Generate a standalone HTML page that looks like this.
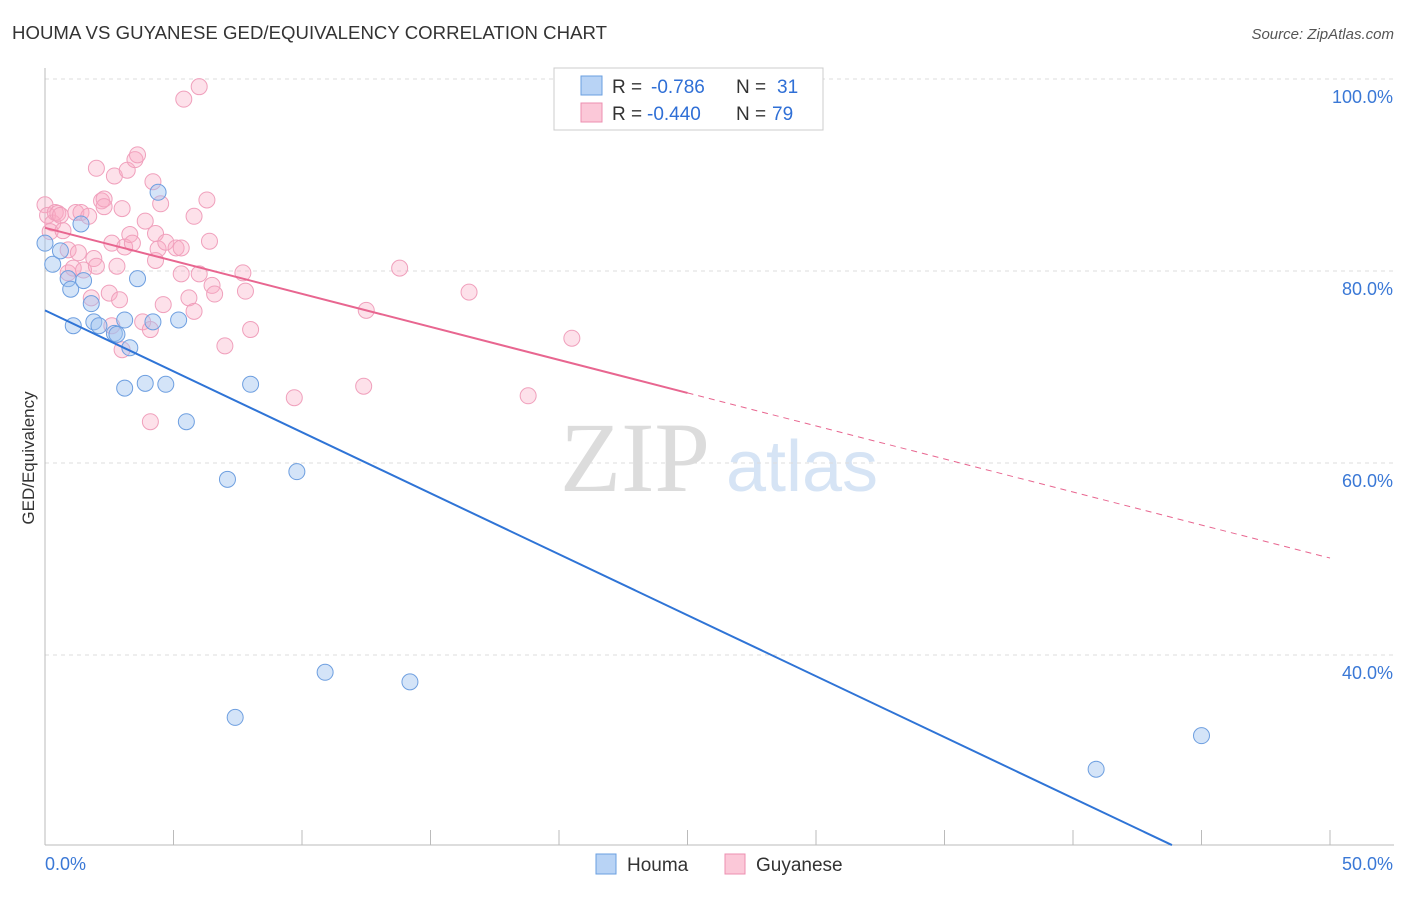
<!DOCTYPE html>
<html><head><meta charset="utf-8"><style>
body{margin:0;background:#fff;font-family:"Liberation Sans",sans-serif;}
</style></head><body>
<svg id="chart" width="1406" height="892" xmlns="http://www.w3.org/2000/svg" font-family="Liberation Sans, sans-serif">
<text x="12" y="39" font-size="18.6" fill="#333" textLength="595">HOUMA VS GUYANESE GED/EQUIVALENCY CORRELATION CHART</text>
<text x="1394" y="39" font-size="15" fill="#555" font-style="italic" text-anchor="end">Source: ZipAtlas.com</text>
<g>
<text x="635" y="491" font-size="100" fill="#dcdcdc" style="font-family:'Liberation Serif',serif" text-anchor="middle">ZIP</text>
<text x="802" y="491" font-size="72" fill="#d6e4f5" text-anchor="middle">atlas</text>
</g>
<g id="grid"></g>
<g id="axes"></g>
<g id="marks"></g>
<text transform="translate(34,458) rotate(-90)" font-size="17" fill="#333" text-anchor="middle">GED/Equivalency</text>
<g>
<rect x="554" y="68" width="269" height="62" fill="#fff" stroke="#ccc"/>
<rect x="581" y="76" width="21" height="19" fill="#b8d3f5" stroke="#6a9fe0"/>
<rect x="581" y="103" width="21" height="19" fill="#fbc8d8" stroke="#ec8fb0"/>
<text x="612" y="93" font-size="19" fill="#333">R =</text>
<text x="651" y="93" font-size="19" fill="#2f6fd6">-0.786</text>
<text x="736" y="93" font-size="19" fill="#333">N =</text>
<text x="777" y="93" font-size="19" fill="#2f6fd6">31</text>
<text x="612" y="120" font-size="19" fill="#333">R =</text>
<text x="647" y="120" font-size="19" fill="#2f6fd6">-0.440</text>
<text x="736" y="120" font-size="19" fill="#333">N =</text>
<text x="772" y="120" font-size="19" fill="#2f6fd6">79</text>
</g>
<g>
<rect x="596" y="854" width="20" height="20" fill="#b8d3f5" stroke="#6a9fe0"/>
<text x="627" y="871" font-size="19" fill="#333">Houma</text>
<rect x="725" y="854" width="20" height="20" fill="#fbc8d8" stroke="#ec8fb0"/>
<text x="756" y="871" font-size="19" fill="#333">Guyanese</text>
</g>
</svg>
<script>
const yTicks=[100,80,60,40];
const yTickLabels=["100.0%","80.0%","60.0%","40.0%"];
const xTicks=[0,5,10,15,20,25,30,35,40,45,50];
const houmaX=[0.0,0.3,0.6,0.9,1.0,1.4,1.5,1.8,1.1,1.9,2.1,2.7,2.8,3.1,3.3,3.6,4.2,4.4,5.2,3.9,3.1,4.7,5.5,8.0,7.1,9.8,10.9,14.2,7.4,40.9,45.0];
const houmaY=[82.9,80.7,82.1,79.2,78.1,84.9,79.0,76.6,74.3,74.7,74.3,73.5,73.4,74.9,72.0,79.2,74.7,88.2,74.9,68.3,67.8,68.2,64.3,68.2,58.3,59.1,38.2,37.2,33.5,28.1,31.6];
const guyX=[0.0,0.1,0.3,0.4,0.5,0.6,0.2,0.7,0.9,0.9,1.1,1.2,1.3,1.4,1.5,1.7,1.8,1.9,2.0,2.0,2.2,2.3,2.3,2.5,2.6,2.6,2.7,2.8,2.9,3.0,3.1,3.0,3.2,3.3,3.4,3.5,3.6,3.8,3.9,4.1,4.2,4.3,4.3,4.4,4.5,4.6,4.7,5.1,5.3,5.3,5.4,5.6,5.8,5.8,6.0,6.0,6.3,6.4,6.5,6.6,7.0,7.7,7.8,8.0,9.7,4.1,12.4,12.5,13.8,16.5,18.8,20.5];
const guyY=[86.9,85.8,85.0,86.1,86.0,85.8,84.1,84.2,82.2,79.8,80.3,86.1,81.9,86.1,80.1,85.7,77.2,81.3,80.5,90.7,87.3,87.5,86.7,77.7,82.9,74.3,89.9,80.5,77.0,86.5,82.5,71.8,90.5,83.8,82.9,91.6,92.1,74.7,85.2,73.9,89.3,81.1,83.9,82.3,87.0,76.5,83.0,82.4,82.4,79.7,97.9,77.2,85.7,75.8,99.2,79.7,87.4,83.1,78.5,77.6,72.2,79.8,77.9,73.9,66.8,64.3,68.0,75.9,80.3,77.8,67.0,73.0];
const houmaLine=[[0,75.9],[43.85,20.2]];
const guyLineSolid=[[0,84.5],[25,67.3]];
const guyLineDash=[[25,67.3],[50,50.1]];
const NS="http://www.w3.org/2000/svg";
const X=v=>45+v*25.7, Y=v=>79+(100-v)*9.6;
function mk(t,a,p){const e=document.createElementNS(NS,t);for(const k in a)e.setAttribute(k,a[k]);p.appendChild(e);return e;}
const grid=document.getElementById('grid'),axes=document.getElementById('axes'),marks=document.getElementById('marks');
yTicks.forEach((v,i)=>{
 const l=mk('line',{x1:45,x2:1394,y1:Y(v),y2:Y(v),stroke:'#ddd','stroke-dasharray':'4,4'},grid);
 
 
 const t=mk('text',{x:1393,y:Y(v)+24,'font-size':18,fill:'#3a78d6','text-anchor':'end'},axes);
 t.textContent=yTickLabels[i];
 
 
});
const ax=mk('line',{x1:45,x2:45,y1:68,y2:845,stroke:'#bbb'},axes);


const bx=mk('line',{x1:45,x2:1394,y1:845,y2:845,stroke:'#bbb'},axes);


xTicks.forEach(v=>{const t=mk('line',{x1:X(v),x2:X(v),y1:830,y2:845,stroke:'#bbb'},axes);
 
 });
const x0=mk('text',{x:45,y:870,'font-size':18,fill:'#3a78d6'},axes);x0.textContent='0.0%';


const x1=mk('text',{x:1393,y:870,'font-size':18,fill:'#3a78d6','text-anchor':'end'},axes);x1.textContent='50.0%';


guyX.forEach((v,i)=>{const c=mk('circle',{cx:X(v),cy:Y(guyY[i]),r:8,fill:'rgba(248,170,195,0.35)',stroke:'#f0a0bc','stroke-width':1},marks);
 
 });
houmaX.forEach((v,i)=>{const c=mk('circle',{cx:X(v),cy:Y(houmaY[i]),r:8,fill:'rgba(160,195,240,0.45)',stroke:'#6e9fe0','stroke-width':1},marks);
 
 });
const hl=mk('line',{x1:X(houmaLine[0][0]),y1:Y(houmaLine[0][1]),x2:X(houmaLine[1][0]),y2:Y(houmaLine[1][1]),stroke:'#2f74d6','stroke-width':2},marks);


const gl=mk('line',{x1:X(guyLineSolid[0][0]),y1:Y(guyLineSolid[0][1]),x2:X(guyLineSolid[1][0]),y2:Y(guyLineSolid[1][1]),stroke:'#e86690','stroke-width':2},marks);


const gd=mk('line',{x1:X(guyLineDash[0][0]),y1:Y(guyLineDash[0][1]),x2:X(guyLineDash[1][0]),y2:Y(guyLineDash[1][1]),stroke:'#e86690','stroke-width':1,'stroke-dasharray':'6,5'},marks);


</script>
</body></html>
